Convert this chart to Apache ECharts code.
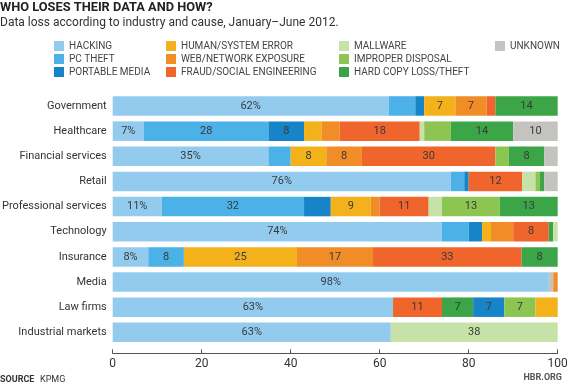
<!DOCTYPE html>
<html>
<head>
<meta charset="utf-8">
<script src="https://cdn.jsdelivr.net/npm/echarts@6/dist/echarts.min.js"></script>
<style>html,body{margin:0;padding:0;background:#fff}#c{width:567px;height:388px}</style>
</head>
<body>
<div id="c"></div>
<script>
const categories = ['Government','Healthcare','Financial services','Retail','Professional services','Technology','Insurance','Media','Law firms','Industrial markets'];
const xTicks = [0, 20, 40, 60, 80, 100];

const causes = ['HACKING','PC THEFT','PORTABLE MEDIA','HUMAN/SYSTEM ERROR','WEB/NETWORK EXPOSURE','FRAUD/SOCIAL ENGINEERING','MALLWARE','IMPROPER DISPOSAL','HARD COPY LOSS/THEFT','UNKNOWN'];
const causeColors = ['#93cbef','#4cb1e7','#1784c7','#f3b11b','#f08d27','#f0652b','#c6e2a8','#8dc553','#3ba548','#c4c3c0'];

// values per category (percent), in the order each row is drawn
const hacking          = [62, 7, 35, 76, 11, 74, 8, 98, 63, 62.5];
const pcTheft          = [6, 28, 5, 3, 32, 6, 8, 0, 0, 0];
const portableMedia    = [2, 8, 0, 1, 6, 3, 0, 0, 0, 0];
const humanError       = [7, 4, 8, 0, 9, 2, 25.4, 0, 0, 0];
const webExposure      = [7, 4, 8, 0, 2, 5, 17.1, 0, 0, 0];
const fraud            = [2, 18, 30, 12, 11, 8, 33.4, 0, 11, 0];
const mallware         = [0, 1, 0, 3, 3, 0, 0, 0, 0, 37.5];
const improperDisposal = [0, 6, 3, 1, 13, 0, 0, 0, 0, 0];
const hardCopy         = [14, 14, 8, 1, 13, 1, 8.1, 0, 7, 0];
// segments drawn after hard copy loss in some rows
const mallwareLate         = [0, 0, 0, 0, 0, 1, 0, 0, 0, 0];
const portableMediaLate    = [0, 0, 0, 0, 0, 0, 0, 0, 7, 0];
const improperDisposalLate = [0, 0, 0, 0, 0, 0, 0, 0, 7, 0];
const humanErrorLate       = [0, 0, 0, 0, 0, 0, 0, 0, 5, 0];
const unknown          = [0, 10, 3, 3, 0, 0, 0, 1, 0, 0];
const webExposureLate  = [0, 0, 0, 0, 0, 0, 0, 1, 0, 0];

const stackOrder = [
  [0, hacking], [1, pcTheft], [2, portableMedia], [3, humanError], [4, webExposure],
  [5, fraud], [6, mallware], [7, improperDisposal], [8, hardCopy],
  [6, mallwareLate], [2, portableMediaLate], [7, improperDisposalLate], [3, humanErrorLate],
  [9, unknown], [4, webExposureLate]
];

const FONT = 'Roboto';
const series = stackOrder.map(([ci, vals]) => ({
  type: 'bar',
  name: causes[ci],
  stack: 'total',
  barWidth: 19.5,
  color: causeColors[ci],
  itemStyle: { color: causeColors[ci] },
  label: {
    show: true,
    position: 'inside',
    color: '#3a3a3a',
    fontSize: 11,
    fontFamily: FONT,
    formatter: p => p.value >= 7 ? (Math.round(p.value) + (ci === 0 ? '%' : '')) : ''
  },
  emphasis: { disabled: true },
  data: vals.map(v => v === 0 ? null : v)
}));

const legendCols = [
  { left: 54, names: causes.slice(0, 3) },
  { left: 166, names: causes.slice(3, 6) },
  { left: 339, names: causes.slice(6, 9) },
  { left: 495, names: causes.slice(9) }
];

const chart = echarts.init(document.getElementById('c'), null, { renderer: 'canvas' });
chart.setOption({
  animation: false,
  backgroundColor: '#fff',
  title: {
    text: 'WHO LOSES THEIR DATA AND HOW?',
    subtext: 'Data loss according to industry and cause, January–June 2012.',
    left: 0, top: 1, padding: 0, itemGap: 3,
    textStyle: { fontFamily: FONT, fontWeight: 'bold', fontSize: 12.8, color: '#222' },
    subtextStyle: { fontFamily: FONT, fontSize: 12, color: '#333' }
  },
  legend: legendCols.map(c => ({
    orient: 'vertical',
    left: c.left, top: 41,
    padding: 0,
    itemWidth: 10, itemHeight: 10, itemGap: 3,
    icon: 'rect',
    selectedMode: false,
    data: c.names,
    textStyle: { fontFamily: FONT, fontSize: 10, color: '#444' }
  })),
  grid: { left: 112.7, right: 9.3, top: 93.4, bottom: 43.1, containLabel: false, outerBoundsMode: 'none' },
  xAxis: {
    type: 'value', min: 0, max: 100, interval: 20,
    offset: 8.4,
    axisLine: { show: true, lineStyle: { color: '#555', width: 1 } },
    axisTick: { show: true, inside: true, length: 4, lineStyle: { color: '#555' } },
    axisLabel: { fontFamily: FONT, fontSize: 12, color: '#333', margin: 5,
      customValues: xTicks },
    splitLine: { show: false }
  },
  yAxis: {
    type: 'category', data: categories, inverse: true,
    axisLine: { show: false }, axisTick: { show: false },
    axisLabel: { fontFamily: FONT, fontSize: 11, color: '#333', margin: 6 }
  },
  graphic: [
    { type: 'text', left: 0, top: 375, style: { text: 'SOURCE', font: 'bold 9px ' + FONT, fill: '#333' } },
    { type: 'text', left: 40, top: 375, style: { text: 'KPMG', font: '9px ' + FONT, fill: '#333' } },
    { type: 'text', right: 5, top: 373, style: { text: 'HBR.ORG', font: 'bold 9px ' + FONT, fill: '#555' } }
  ],
  series
});
</script>
</body>
</html>
